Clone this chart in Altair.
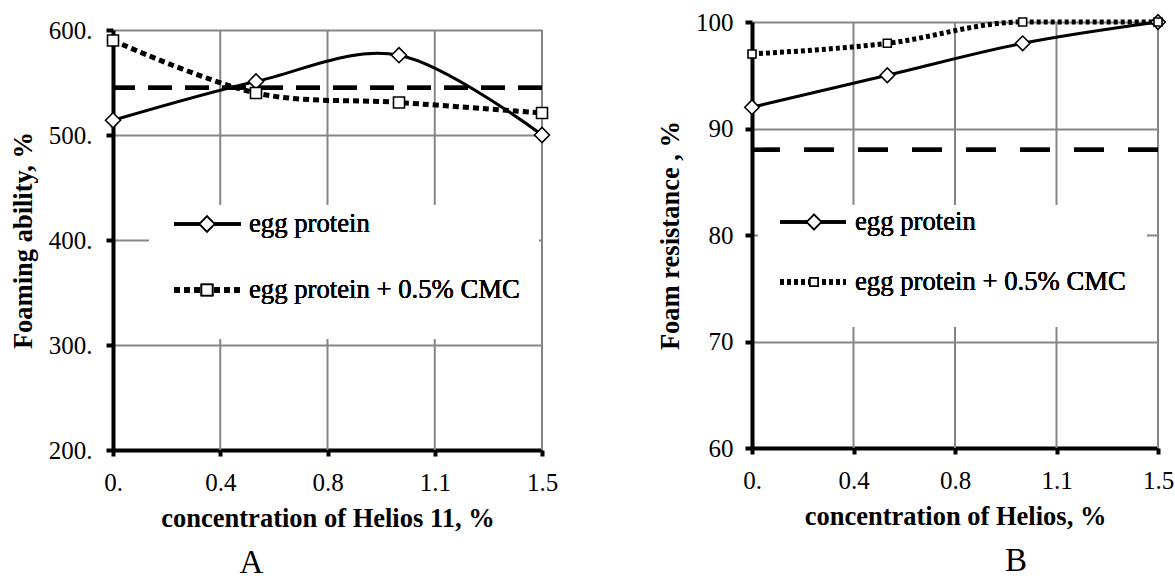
import json
import altair as alt
import pandas as pd

# ---------------- data ----------------
x_conc = [0.0, 0.5, 1.0, 1.5]

a_egg = [514, 551, 576, 500]
a_cmc = [590, 540, 531, 521]
a_ref = 545

b_egg = [92, 95, 98, 100]
b_cmc = [97, 98, 100, 100]
b_ref = 88

x_tick_values = [0, 0.375, 0.75, 1.125, 1.5]
x_tick_labels = ["0.", "0.4", "0.8", "1.1", "1.5"]
a_y_ticks = [200, 300, 400, 500, 600]
a_y_labels = ["200.", "300.", "400.", "500.", "600."]
b_y_ticks = [60, 70, 80, 90, 100]
b_y_labels = ["60", "70", "80", "90", "100"]

series_names = ["egg protein", "egg protein + 0.5% CMC"]
a_titles = ("concentration of Helios 11, %", "Foaming ability, %", "A")
b_titles = ("concentration of Helios, %", "Foam resistance , %", "B")

FONT = "Times New Roman, Liberation Serif, serif"
GRID = "#868686"


def label_expr(values, labels):
    return f"{json.dumps(labels)}[indexof({json.dumps(values)}, datum.value)]"


def panel(egg, cmc, ref, y_ticks, y_labels, titles, width, height, y_range,
          ylab_pad, ytitle_pad, leg, marker_sizes, cmc_style, ref_dash, interp,
          letter_dx):
    xtitle, ytitle, letter = titles
    xs = alt.Scale(domain=[0, 1.5], nice=False, zero=False)
    ys_kw = dict(domain=[y_ticks[0], y_ticks[-1]], nice=False, zero=False)
    if y_range is not None:
        ys_kw["range"] = y_range
    ys = alt.Scale(**ys_kw)

    xaxis = alt.Axis(
        values=x_tick_values, labelExpr=label_expr(x_tick_values, x_tick_labels),
        grid=False, domainColor="black", domainWidth=4, tickColor="black",
        tickWidth=4, tickSize=6, labelFont=FONT, labelFontSize=25,
        labelColor="black", labelPadding=14, labelFlush=False,
        labelOverlap=False,
        title=xtitle, titleFont=FONT, titleFontSize=26.5, titleFontWeight="bold",
        titleColor="black", titlePadding=10,
    )
    yaxis = alt.Axis(
        values=y_ticks, labelExpr=label_expr(y_ticks, y_labels),
        grid=True, gridColor=GRID, gridWidth=2,
        domainColor="black", domainWidth=4, tickColor="black", tickWidth=4,
        tickSize=7, labelFont=FONT, labelFontSize=25, labelColor="black",
        labelPadding=ylab_pad, labelFlush=False, labelOverlap=False,
        title=ytitle, titleFont=FONT, titleFontSize=26.5, titleFontWeight="bold",
        titleColor="black", titlePadding=ytitle_pad,
    )
    X = alt.X("x:Q", scale=xs, axis=xaxis)
    Y = alt.Y("y:Q", scale=ys, axis=yaxis)

    df_egg = pd.DataFrame({"x": x_conc, "y": egg})
    df_cmc = pd.DataFrame({"x": x_conc, "y": cmc})
    df_grid = pd.DataFrame({"x": x_tick_values[1:]})

    vgrid = alt.Chart(df_grid).mark_rule(color=GRID, strokeWidth=2).encode(
        x=X, y=alt.datum(y_ticks[0]), y2=alt.datum(y_ticks[-1])
    )
    refline = alt.Chart(df_egg).mark_rule(
        color="black", strokeWidth=4, strokeDash=ref_dash
    ).encode(y=alt.datum(ref))

    cmc_w, cmc_dash = cmc_style
    line_egg = alt.Chart(df_egg).mark_line(
        color="black", strokeWidth=3, interpolate=interp
    ).encode(x=X, y=Y)
    line_cmc = alt.Chart(df_cmc).mark_line(
        color="black", strokeWidth=cmc_w, strokeDash=cmc_dash, interpolate=interp
    ).encode(x=X, y=Y)
    dsize, ssize = marker_sizes
    pts_egg = alt.Chart(df_egg).mark_point(
        shape="diamond", filled=True, fill="white", stroke="black",
        strokeWidth=1.6, size=dsize, opacity=1
    ).encode(x=X, y=Y)
    pts_cmc = alt.Chart(df_cmc).mark_point(
        shape="square", filled=True, fill="white", stroke="black",
        strokeWidth=1.6, size=ssize, opacity=1
    ).encode(x=X, y=Y)

    # legend drawn inside the plot (Excel style)
    rx1, rx2, ry1, ry2, lx1, lx2, mx, tx, ey1, ey2 = leg
    leg_box = alt.Chart(df_egg).mark_rect(fill="white").encode(
        x=alt.value(rx1), x2=alt.value(rx2), y=alt.value(ry1), y2=alt.value(ry2)
    )
    leg_l1 = alt.Chart(df_egg).mark_rule(color="black", strokeWidth=3).encode(
        x=alt.value(lx1), x2=alt.value(lx2), y=alt.value(ey1)
    )
    leg_l2 = alt.Chart(df_egg).mark_rule(
        color="black", strokeWidth=cmc_w, strokeDash=cmc_dash
    ).encode(x=alt.value(lx1), x2=alt.value(lx2), y=alt.value(ey2))
    leg_m1 = alt.Chart(df_egg).mark_point(
        shape="diamond", filled=True, fill="white", stroke="black",
        strokeWidth=1.6, size=dsize, opacity=1
    ).encode(x=alt.value(mx), y=alt.value(ey1))
    leg_m2 = alt.Chart(df_egg).mark_point(
        shape="square", filled=True, fill="white", stroke="black",
        strokeWidth=1.6, size=ssize, opacity=1
    ).encode(x=alt.value(mx), y=alt.value(ey2))
    leg_t1 = alt.Chart(df_egg).mark_text(
        align="left", baseline="middle", font=FONT, fontSize=26.7, color="black"
    ).encode(x=alt.value(tx), y=alt.value(ey1), text=alt.value(series_names[0]))
    leg_t2 = alt.Chart(df_egg).mark_text(
        align="left", baseline="middle", font=FONT, fontSize=26.7, color="black"
    ).encode(x=alt.value(tx), y=alt.value(ey2), text=alt.value(series_names[1]))

    return alt.layer(
        vgrid, refline, line_egg, line_cmc, pts_egg, pts_cmc,
        leg_box, leg_l1, leg_l2, leg_m1, leg_m2, leg_t1, leg_t2,
    ).properties(
        width=width, height=height,
        title=alt.TitleParams(
            letter, orient="bottom", anchor="middle", dx=letter_dx, offset=15,
            font=FONT, fontSize=33, fontWeight="normal", color="black",
            baseline="top",
        ),
    )


chart_a = panel(
    a_egg, a_cmc, a_ref, a_y_ticks, a_y_labels, a_titles,
    width=429, height=428, y_range=[428, 8], ylab_pad=14, ytitle_pad=11,
    leg=(36, 426, 183, 317, 61, 128, 94, 136, 202, 268),
    marker_sizes=(225, 121), cmc_style=(5, [6, 4]), ref_dash=[24, 13],
    interp="cardinal", letter_dx=-76,
)
chart_b = panel(
    b_egg, b_cmc, b_ref, b_y_ticks, b_y_labels, b_titles,
    width=406, height=426, y_range=None, ylab_pad=12, ytitle_pad=11,
    leg=(6, 395, 183, 305, 28, 94, 62, 103, 200, 260),
    marker_sizes=(210, 64), cmc_style=(5, [4, 3]), ref_dash=[30, 24],
    interp="monotone", letter_dx=61,
)

chart = alt.hconcat(chart_a, chart_b, spacing=210, bounds="flush").properties(
    padding={"left": 10, "top": 10, "right": 0, "bottom": 0},
    background="white",
).configure_view(stroke=None)

chart.save("out.html", embed_options={"renderer": "svg", "actions": False})
